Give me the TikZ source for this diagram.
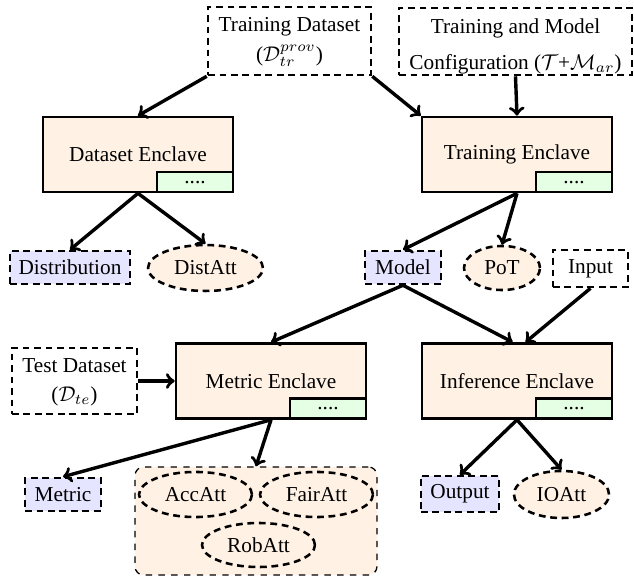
\documentclass[tikz,border=0pt]{standalone}
\usepackage{fontspec}
\setmainfont{Liberation Serif}
\usetikzlibrary{shapes.geometric}

\tikzset{
  enclave/.style={draw, line width=1.2pt, fill=orange!10, minimum width=89.3pt, minimum height=35.3pt, inner sep=0pt},
  slot/.style={draw, line width=1.2pt, fill=green!10, minimum width=35.7pt, minimum height=9.4pt, inner sep=0pt, anchor=south east},
  dbox/.style={draw, line width=1.2pt, dash pattern=on 3.2pt off 2.2pt, inner sep=2pt, align=center},
  dres/.style={dbox, fill=blue!10},
  datt/.style={ellipse, draw, line width=1.2pt, dash pattern=on 3.2pt off 2.2pt, fill=orange!10, inner sep=0pt},
  flow/.style={->, line width=1.6pt},
  boxtext/.style={align=center, inner sep=0pt},
}

\begin{document}
\begin{tikzpicture}[x=0.47pt,y=0.47pt,yscale=-1]
\useasboundingbox (0,0) rectangle (634,581);

% inputs on top
\node (tds) [dbox, minimum width=76.6pt, minimum height=32pt] at (289.5,41) {};
\node (tdstxt) [boxtext] at (289.5,42) {Training Dataset\\[2pt]($\mathcal{D}_{tr}^{prov}$)};
\node (cfg) [dbox, minimum width=109.5pt, minimum height=31.5pt] at (515.5,41.5) {};
\node (cfgtxt) [boxtext] at (515.5,46.5) {Training and Model\\[5pt]Configuration ($\mathcal{T}$+$\mathcal{M}_{ar}$)};

% enclaves
\node (denc) [enclave] at (138,154.5) {Dataset Enclave};
\node (tenc) [enclave] at (517,154.5) {Training Enclave};
\node (menc) [enclave] at (271,381) {Metric Enclave};
\node (ienc) [enclave] at (517,381) {Inference Enclave};
\node (dslot) [slot] at (denc.south east) {....};
\node (tslot) [slot] at (tenc.south east) {....};
\node (mslot) [slot] at (menc.south east) {....};
\node (islot) [slot] at (ienc.south east) {....};

% outputs of dataset and training enclave
\node (dist) [dres, minimum width=56.4pt, minimum height=15.5pt] at (70,267.5) {Distribution};
\node (distatt) [datt, minimum width=54pt, minimum height=21.6pt] at (205.5,268) {DistAtt};
\node (model) [dres, minimum width=35.7pt, minimum height=15.5pt] at (403,267.5) {Model};
\node (pot) [datt, minimum width=35.7pt, minimum height=20.7pt] at (502,268) {PoT};
\node (input) [dbox, minimum width=35.3pt, minimum height=17.4pt] at (590.5,268.5) {Input};

% test data
\node (tsd) [dbox, minimum width=58.8pt, minimum height=31pt] at (74.5,381) {};
\node (tsdtxt) [boxtext] at (74.5,382.5) {Test Dataset\\[1.5pt]($\mathcal{D}_{te}$)};

% outputs of metric and inference enclave
\node (metric) [dres, minimum width=35.7pt, minimum height=15.5pt] at (63,494.5) {Metric};
\node (grp) [draw, line width=0.6pt, dashed, rounded corners=4pt, fill=orange!10, minimum width=113.7pt, minimum height=50.8pt] at (256,521) {};
\node (acc) [datt, minimum width=53.1pt, minimum height=21.2pt] at (195.5,494.5) {AccAtt};
\node (fair) [datt, minimum width=53.1pt, minimum height=21.2pt] at (316.5,494.5) {FairAtt};
\node (rob) [datt, minimum width=53.1pt, minimum height=20.7pt] at (258.5,545) {RobAtt};
\node (output) [dres, minimum width=36.7pt, minimum height=16.9pt] at (460,494) {Output};
\node (ioatt) [datt, minimum width=44.7pt, minimum height=22.1pt] at (561.5,494.5) {IOAtt};

% arrows
\draw [flow] (tds.south west) -- (denc.north);
\draw [flow] (tds.south east) -- (tenc.north west);
\draw [flow] (cfg.south) -- (tenc.north);
\draw [flow] (denc.south) -- (dist.north);
\draw [flow] (denc.south) -- (distatt.north);
\draw [flow] (tenc.south) -- (model.north);
\draw [flow] (tenc.south) -- (pot.north);
\draw [flow] (model.south) -- (menc.north);
\draw [flow] (model.south) -- ([xshift=-2pt]ienc.north);
\draw [flow] (input.south) -- ([xshift=4pt]ienc.north);
\draw [flow] (tsd.east) -- (menc.west);
\draw [flow] (menc.south) -- (metric.north);
\draw [flow] (menc.south) -- (grp.north);
\draw [flow] (ienc.south) -- (output.north);
\draw [flow] (ienc.south) -- (ioatt.north);

\end{tikzpicture}
\end{document}
